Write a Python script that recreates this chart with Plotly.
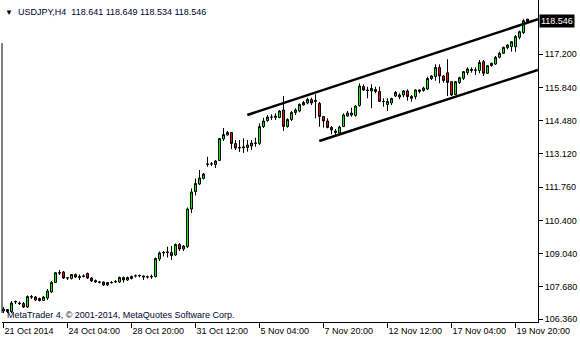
import plotly.graph_objects as go

# ---- data (USDJPY H4, one entry per bar) ----
bar_open = [106.688, 106.749, 106.668, 107.057, 107.016, 106.995, 106.852, 107.282, 107.262, 107.200,
            107.118, 107.221, 107.467, 107.855, 108.265, 108.286, 108.040, 108.019, 108.183, 108.101,
            108.101, 108.224, 108.040, 107.937, 107.876, 107.876, 107.753, 107.855, 107.876, 107.876,
            108.060, 107.958, 108.019, 108.122, 108.122, 108.122, 108.081, 108.081, 108.101, 108.818,
            109.064, 109.084, 109.084, 108.982, 109.412, 109.227, 109.330, 110.865, 111.582, 111.889,
            112.115, 112.688, 112.708, 112.688, 112.851, 113.732, 113.896, 113.998, 113.548, 113.363,
            113.363, 113.384, 113.445, 113.548, 113.548, 114.244, 114.490, 114.633, 114.612, 114.612,
            114.920, 114.244, 114.531, 114.817, 114.879, 115.124, 115.206, 115.349, 115.268, 115.186,
            114.653, 114.469, 114.203, 114.060, 113.978, 114.244, 114.674, 114.715, 114.694, 115.104,
            115.882, 115.738, 115.698, 115.759, 115.677, 115.268, 115.145, 115.206, 115.493, 115.452,
            115.533, 115.698, 115.472, 115.472, 115.677, 115.718, 115.779, 116.209, 116.291, 116.660,
            116.312, 116.447, 116.078, 115.554, 116.046, 116.218, 116.455, 116.537, 116.558, 116.537,
            116.898, 116.422, 116.742, 116.803, 117.078, 117.241, 117.471, 117.512, 117.512, 117.897,
            118.085, 118.641]
bar_high = [106.852, 106.770, 107.098, 107.118, 107.077, 107.057, 107.323, 107.344, 107.303, 107.241,
            107.303, 107.589, 107.917, 108.286, 108.368, 108.327, 108.081, 108.204, 108.224, 108.183,
            108.183, 108.265, 108.081, 107.978, 107.917, 107.896, 107.876, 107.917, 107.958, 108.101,
            108.101, 108.101, 108.142, 108.183, 108.183, 108.142, 108.134, 108.183, 108.879, 109.125,
            109.146, 109.322, 109.350, 109.453, 109.473, 109.391, 110.927, 111.705, 112.115, 112.463,
            112.340, 113.007, 112.790, 112.872, 113.773, 114.182, 114.060, 114.019, 113.691, 113.691,
            113.760, 113.691, 113.691, 113.785, 114.375, 114.604, 114.715, 114.744, 114.784, 114.920,
            115.493, 114.580, 114.879, 114.989, 115.194, 115.288, 115.423, 115.423, 115.562, 115.247,
            114.674, 114.580, 114.264, 114.142, 114.277, 114.784, 114.879, 115.014, 115.124, 116.013,
            115.972, 115.874, 115.972, 115.874, 115.874, 115.398, 115.398, 115.423, 115.698, 115.603,
            115.738, 115.767, 115.533, 115.767, 115.767, 115.874, 116.283, 116.353, 116.791, 116.791,
            116.353, 116.996, 116.107, 116.107, 116.283, 116.517, 116.668, 116.668, 116.668, 116.967,
            116.967, 116.762, 116.857, 117.131, 117.307, 117.512, 117.610, 117.745, 117.991, 118.167,
            118.634, 118.649]
bar_low = [106.606, 106.606, 106.606, 106.975, 106.934, 106.811, 106.811, 107.180, 107.098, 107.077,
           107.098, 107.139, 107.425, 107.835, 108.163, 107.999, 107.958, 107.978, 108.040, 107.958,
           108.060, 107.999, 107.876, 107.835, 107.814, 107.712, 107.712, 107.814, 107.835, 107.835,
           107.855, 107.917, 107.978, 108.060, 108.060, 107.958, 108.019, 107.999, 108.060, 108.736,
           108.920, 108.879, 108.777, 108.941, 109.146, 109.146, 109.268, 110.702, 111.418, 111.848,
           112.074, 112.598, 112.626, 112.544, 112.831, 113.650, 113.875, 113.322, 113.282, 113.200,
           113.159, 113.212, 113.282, 113.417, 113.486, 114.182, 114.440, 114.510, 114.510, 114.580,
           114.060, 114.195, 114.469, 114.715, 114.825, 115.096, 115.153, 115.124, 114.580, 114.236,
           114.195, 114.170, 113.924, 113.867, 113.896, 114.223, 114.645, 114.645, 114.645, 115.055,
           115.698, 115.398, 114.989, 115.603, 115.247, 115.055, 114.879, 115.124, 115.452, 115.358,
           115.439, 115.300, 115.259, 115.358, 115.603, 115.669, 115.738, 116.148, 116.119, 116.013,
           116.037, 115.493, 115.493, 115.533, 115.984, 116.148, 116.353, 116.447, 116.353, 116.422,
           116.312, 116.394, 116.693, 116.762, 117.037, 117.213, 117.405, 117.307, 117.307, 117.815,
           118.032, 118.534]
bar_close = [106.770, 106.668, 107.016, 107.077, 106.995, 106.852, 107.282, 107.262, 107.139, 107.118,
             107.262, 107.508, 107.855, 108.257, 108.245, 108.040, 108.045, 108.183, 108.081, 108.060,
             108.122, 108.040, 107.917, 107.876, 107.870, 107.753, 107.855, 107.850, 107.896, 108.060,
             107.958, 108.060, 108.101, 108.127, 108.142, 108.081, 108.085, 108.101, 108.838, 109.064,
             109.084, 109.105, 108.961, 109.412, 109.227, 109.350, 110.865, 111.562, 111.910, 112.135,
             112.299, 112.708, 112.712, 112.831, 113.752, 113.916, 113.998, 113.548, 113.363, 113.384,
             113.404, 113.486, 113.568, 113.568, 114.244, 114.469, 114.633, 114.628, 114.674, 114.879,
             114.244, 114.531, 114.817, 114.920, 115.145, 115.227, 115.349, 115.206, 115.308, 114.653,
             114.469, 114.203, 114.101, 113.998, 114.223, 114.715, 114.797, 114.797, 115.083, 115.902,
             115.738, 115.718, 115.800, 115.677, 115.268, 115.264, 115.268, 115.390, 115.636, 115.533,
             115.698, 115.472, 115.398, 115.738, 115.738, 115.820, 116.209, 116.312, 116.660, 116.312,
             116.127, 116.046, 115.533, 116.078, 116.242, 116.488, 116.599, 116.578, 116.550, 116.865,
             116.422, 116.734, 116.832, 117.078, 117.241, 117.487, 117.581, 117.716, 117.921, 118.126,
             118.576, 118.546]

time_tick_bars = [0, 16, 32, 48, 64, 80, 96, 112, 128]
time_tick_labels = ["21 Oct 2014", "24 Oct 04:00", "28 Oct 20:00", "31 Oct 12:00", "5 Nov 04:00",
                    "7 Nov 20:00", "12 Nov 12:00", "17 Nov 04:00", "19 Nov 20:00"]
price_ticks = [106.360, 107.680, 109.040, 110.400, 111.760, 113.120, 114.480, 115.840, 117.200]

upper_channel_bars = [60.95, 133.6]
upper_channel_prices = [114.715, 118.634]
lower_channel_bars = [78.95, 133.6]
lower_channel_prices = [113.650, 116.558]

symbol_title = "USDJPY,H4  118.641 118.649 118.534 118.546"
last_price = 118.546
copyright_text = "MetaTrader 4, \u00a9 2001-2014, MetaQuotes Software Corp."

FONT = "Liberation Sans"
bars = list(range(len(bar_close)))

fig = go.Figure()
fig.add_trace(go.Candlestick(
    x=bars, open=bar_open, high=bar_high, low=bar_low, close=bar_close,
    increasing=dict(fillcolor="#00ff00", line=dict(color="#000000", width=1)),
    decreasing=dict(fillcolor="#ff0000", line=dict(color="#000000", width=1)),
    whiskerwidth=0, showlegend=False, hoverinfo="skip",
))
for bx, py in ((upper_channel_bars, upper_channel_prices), (lower_channel_bars, lower_channel_prices)):
    fig.add_trace(go.Scatter(x=bx, y=py, mode="lines", line=dict(color="#000000", width=2.5),
                             showlegend=False, hoverinfo="skip", cliponaxis=True))

fig.update_layout(
    width=580, height=340,
    margin=dict(l=2, r=42, t=0, b=18),
    paper_bgcolor="#ffffff", plot_bgcolor="#ffffff",
    font=dict(family=FONT, size=9, color="#000000"),
    showlegend=False,
)
fig.update_xaxes(
    type="linear", range=[-0.375, 133.625], rangeslider=dict(visible=False),
    showgrid=False, zeroline=False, showline=True, linecolor="#000000", linewidth=1,
    ticks="outside", ticklen=5, tickcolor="#000000", tickwidth=1,
    tickvals=time_tick_bars, ticktext=time_tick_labels, ticklabelposition="outside right",
    tickfont=dict(family=FONT, size=9, color="#000000"),
)
fig.update_yaxes(
    range=[106.238, 119.424], side="right",
    showgrid=False, zeroline=False, showline=True, linecolor="#000000", linewidth=1,
    ticks="outside", ticklen=4, tickcolor="#000000", tickwidth=1,
    tickvals=price_ticks, ticktext=[f"{v:.3f}" for v in price_ticks],
    tickfont=dict(family=FONT, size=9, color="#000000"),
)

# left frame line
fig.add_shape(type="line", xref="paper", yref="paper", x0=0, x1=0, y0=0.028, y1=0.866,
              line=dict(color="#000000", width=1))

# current price marker
fig.add_annotation(xref="paper", yref="y", x=1, y=last_price, xanchor="left", yanchor="middle",
                   text=f"{last_price:.3f}", showarrow=False, bgcolor="#000000",
                   font=dict(family=FONT, size=9, color="#ffffff"), borderpad=1, xshift=1)
# title
fig.add_annotation(xref="paper", yref="paper", x=0, y=1, xanchor="left", yanchor="middle",
                   text="\u25bc", showarrow=False, xshift=1, yshift=-12,
                   font=dict(family=FONT, size=8, color="#000000"))
fig.add_annotation(xref="paper", yref="paper", x=0, y=1, xanchor="left", yanchor="middle",
                   text=symbol_title, showarrow=False, xshift=14, yshift=-12,
                   font=dict(family=FONT, size=9, color="#000033"))
# copyright
fig.add_annotation(xref="paper", yref="paper", x=0, y=0, xanchor="left", yanchor="middle",
                   text=copyright_text, showarrow=False, xshift=3, yshift=7,
                   font=dict(family=FONT, size=9, color="#000033"))

fig.write_html("out.html")
